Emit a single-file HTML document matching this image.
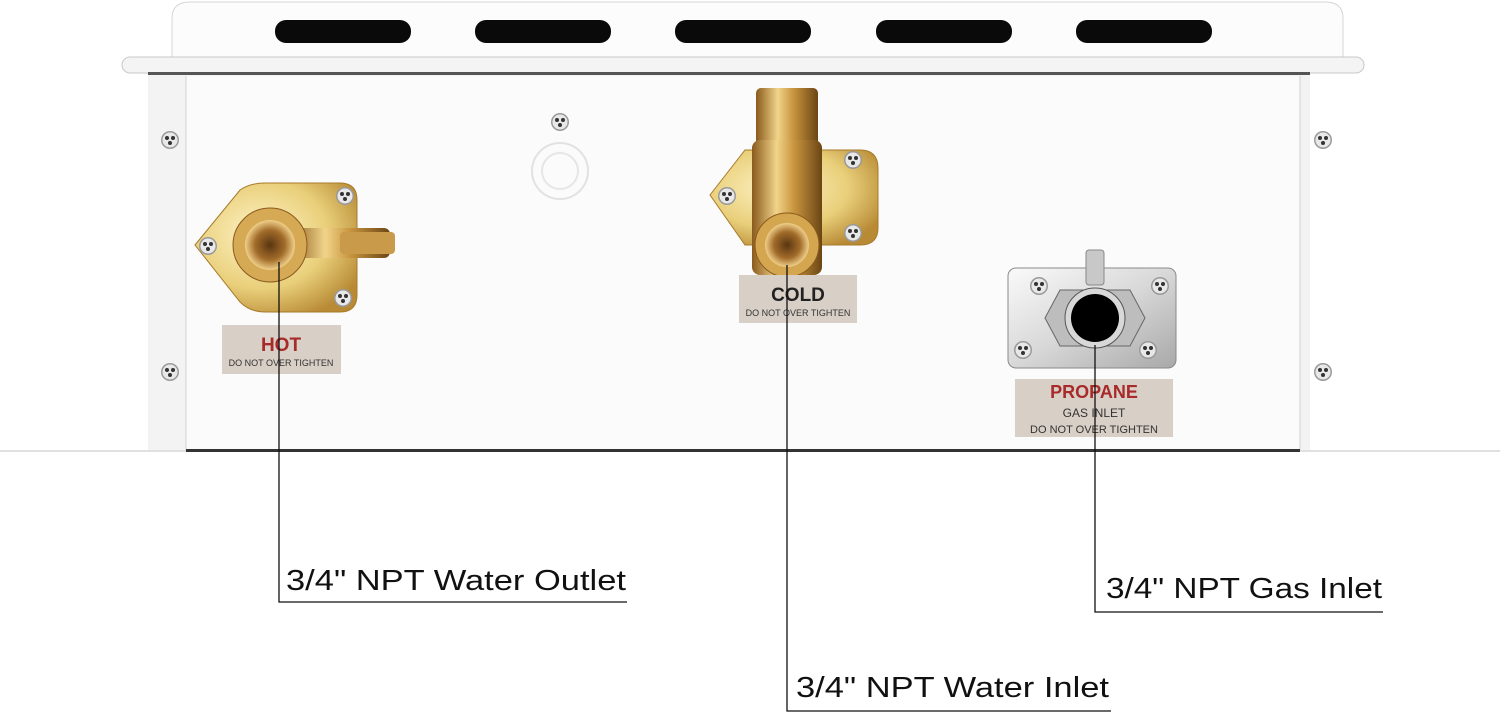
<!DOCTYPE html>
<html><head><meta charset="utf-8"><style>
html,body{margin:0;padding:0;background:#fff;width:1500px;height:713px;overflow:hidden}
svg{display:block}
text{font-family:"Liberation Sans",sans-serif}
</style></head><body>
<svg width="1500" height="713" viewBox="0 0 1500 713" xmlns="http://www.w3.org/2000/svg">
<defs>
<linearGradient id="brass" x1="0" x2="1"><stop offset="0" stop-color="#8a5a1c"/><stop offset=".35" stop-color="#f1d48a"/><stop offset=".6" stop-color="#c9953f"/><stop offset="1" stop-color="#6b4514"/></linearGradient>
<radialGradient id="plate" cx=".4" cy=".4" r=".7"><stop offset="0" stop-color="#fff4c8"/><stop offset=".6" stop-color="#e9cf7a"/><stop offset="1" stop-color="#b88a35"/></radialGradient>
<radialGradient id="hole" cx=".5" cy=".5" r=".5"><stop offset="0" stop-color="#5a3510"/><stop offset=".6" stop-color="#a26c2a"/><stop offset="1" stop-color="#f0d08a"/></radialGradient>
<linearGradient id="steel" x1="0" x2="1" y1="0" y2="1"><stop offset="0" stop-color="#fafafa"/><stop offset=".5" stop-color="#d8d8d8"/><stop offset="1" stop-color="#a8a8a8"/></linearGradient>
<g id="screw"><circle r="9" fill="#9a9a9a"/><circle r="7.5" fill="#e8e8e8"/><circle r="2" cx="-3" cy="-2" fill="#333"/><circle r="2" cx="3" cy="-2" fill="#333"/><circle r="2" cx="0" cy="3" fill="#333"/></g>
</defs>
<path d="M172 58 V18 Q172 2 190 2 H1325 Q1343 2 1343 18 V58 Z" fill="#fcfcfc" stroke="#d6d6d6"/>
<g fill="#0a0a0a">
<rect x="275" y="20" width="136" height="23" rx="11"/>
<rect x="475" y="20" width="136" height="23" rx="11"/>
<rect x="675" y="20" width="136" height="23" rx="11"/>
<rect x="876" y="20" width="136" height="23" rx="11"/>
<rect x="1076" y="20" width="136" height="23" rx="11"/>
</g>
<rect x="122" y="57" width="1242" height="16" rx="8" fill="#f4f4f4" stroke="#c8c8c8"/>
<rect x="148" y="72" width="1162" height="4" fill="#555"/>
<rect x="148" y="75" width="1162" height="376" fill="#f3f3f3"/>
<rect x="186" y="76" width="1114" height="374" fill="#fbfbfb"/>
<line x1="186" y1="76" x2="186" y2="450" stroke="#d0d0d0"/>
<line x1="1300" y1="76" x2="1300" y2="450" stroke="#d0d0d0"/>
<rect x="0" y="450" width="1500" height="2" fill="#e0e0e0"/>
<rect x="186" y="449" width="1114" height="3" fill="#333"/>
<use href="#screw" x="170" y="140"/><use href="#screw" x="170" y="372"/>
<use href="#screw" x="1323" y="140"/><use href="#screw" x="1323" y="372"/>
<use href="#screw" x="560" y="122"/>
<circle cx="560" cy="171" r="28" fill="none" stroke="#e2e2e2" stroke-width="2"/>
<circle cx="560" cy="171" r="18" fill="none" stroke="#e6e6e6" stroke-width="2"/>
<path d="M195 245 L240 190 Q250 183 265 183 H340 Q357 183 357 200 V295 Q357 312 340 312 H265 Q250 312 240 302 Z" fill="url(#plate)" stroke="#a87a2a"/>
<rect x="290" y="228" width="100" height="30" rx="6" fill="url(#brass)"/>
<rect x="340" y="232" width="55" height="22" rx="4" fill="#c99a4a"/>
<circle cx="270" cy="245" r="37" fill="#d6a955" stroke="#8a5a1c"/>
<circle cx="270" cy="245" r="25" fill="url(#hole)"/>
<use href="#screw" x="345" y="196"/><use href="#screw" x="208" y="246"/><use href="#screw" x="343" y="298"/>
<path d="M710 195 L745 150 H860 Q878 150 878 168 V228 Q878 245 860 245 H745 Z" fill="url(#plate)" stroke="#a87a2a"/>
<rect x="756" y="88" width="62" height="60" rx="5" fill="url(#brass)"/>
<rect x="752" y="140" width="70" height="135" rx="8" fill="url(#brass)"/>
<circle cx="787" cy="245" r="32" fill="#d4a650" stroke="#8a5a1c"/>
<circle cx="787" cy="245" r="22" fill="url(#hole)"/>
<use href="#screw" x="853" y="160"/><use href="#screw" x="727" y="196"/><use href="#screw" x="853" y="233"/>
<rect x="1008" y="268" width="168" height="100" rx="8" fill="url(#steel)" stroke="#8a8a8a"/>
<rect x="1086" y="250" width="18" height="35" rx="3" fill="#c8c8c8" stroke="#888"/>
<polygon points="1060,290 1130,290 1145,318 1130,346 1060,346 1045,318" fill="#bdbdbd" stroke="#666"/>
<circle cx="1095" cy="318" r="30" fill="#d8d8d8" stroke="#555"/>
<circle cx="1095" cy="318" r="24" fill="#000"/>
<use href="#screw" x="1039" y="286"/><use href="#screw" x="1160" y="286"/><use href="#screw" x="1023" y="350"/><use href="#screw" x="1148" y="350"/>
<rect x="222" y="325" width="119" height="49" fill="#d8cfc6"/>
<text x="281" y="351" font-size="19" font-weight="bold" fill="#a82a2a" text-anchor="middle">HOT</text>
<text x="281" y="366" font-size="9" fill="#333" text-anchor="middle">DO NOT OVER TIGHTEN</text>
<rect x="739" y="275" width="118" height="48" fill="#d8cfc6"/>
<text x="798" y="301" font-size="19" font-weight="bold" fill="#222" text-anchor="middle">COLD</text>
<text x="798" y="316" font-size="9" fill="#333" text-anchor="middle">DO NOT OVER TIGHTEN</text>
<rect x="1015" y="379" width="158" height="58" fill="#d8cfc6"/>
<text x="1094" y="398" font-size="18" font-weight="bold" fill="#a82a2a" text-anchor="middle">PROPANE</text>
<text x="1094" y="417" font-size="12" fill="#333" text-anchor="middle">GAS INLET</text>
<text x="1094" y="433" font-size="11" fill="#333" text-anchor="middle">DO NOT OVER TIGHTEN</text>
<g stroke="#111" stroke-width="1.3" fill="none">
<polyline points="279,262 279,602 627,602"/>
<polyline points="787,265 787,711 1111,711"/>
<polyline points="1095,345 1095,612 1383,612"/>
</g>
<g font-size="29" fill="#111">
<text x="286" y="590" textLength="340" lengthAdjust="spacingAndGlyphs">3/4" NPT Water Outlet</text>
<text x="796" y="697" textLength="313" lengthAdjust="spacingAndGlyphs">3/4" NPT Water Inlet</text>
<text x="1106" y="598" textLength="276" lengthAdjust="spacingAndGlyphs">3/4" NPT Gas Inlet</text>
</g>
</svg>
</body></html>
